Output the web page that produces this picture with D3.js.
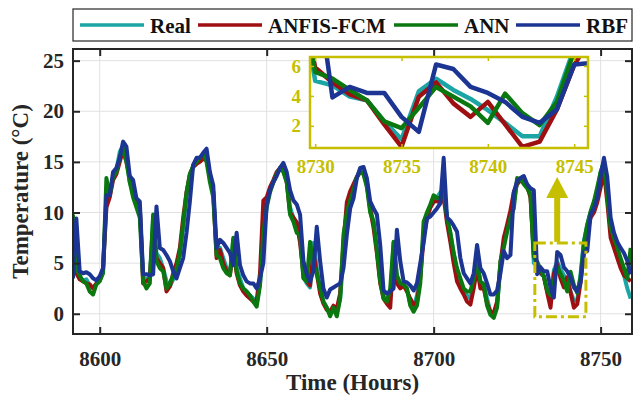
<!DOCTYPE html>
<html>
<head>
<meta charset="utf-8">
<script src="https://cdn.jsdelivr.net/npm/d3@7"></script>
<style>
  body { margin: 0; background: #fff; }
  svg text { font-family: "Liberation Serif", "Times New Roman", serif; font-weight: bold; }
</style>
</head>
<body>
<div id="chart"></div>
<script>
// hourly temperature (°C), first sample at hour 8592
const hourStart = 8592;

const realTemp = [
  8.2, 4.5, 3.5, 3.3, 3.4, 2.8, 2.6, 2.9, 3.3, 4.2,
  10.8, 12.0, 13.5, 14.2, 16.0, 16.6, 15.5, 13.0, 12.0, 11.0,
  10.5, 3.6, 3.4, 3.6, 9.5, 6.0, 5.5, 4.5, 3.2, 2.7,
  3.4, 4.5, 5.8, 8.5, 11.5, 13.5, 14.7, 15.0, 15.3, 15.7,
  15.5, 13.5, 12.0, 6.2, 6.5, 5.5, 4.5, 4.0, 7.3, 4.5,
  3.5, 2.5, 2.2, 1.8, 1.5, 1.0, 3.0, 7.0, 11.0, 12.3,
  13.0, 13.8, 14.3, 14.4, 13.5, 10.5, 9.5, 9.0, 7.5, 3.6,
  3.0, 2.6, 7.0, 4.5, 2.5, 1.2, 0.6, 0.0, 0.6, 0.2,
  1.5, 5.5, 9.5, 11.5, 12.5, 13.5, 14.2, 14.0, 13.0, 10.5,
  9.0, 6.5, 3.5, 1.8, 1.2, 1.5, 7.0, 3.5, 2.8, 2.9,
  2.5, 1.0, 0.6, 1.8, 4.0, 8.0, 9.5, 10.5, 11.0, 11.5,
  12.0, 12.3, 9.5, 8.0, 6.0, 4.0, 3.0, 2.2, 1.8, 1.5,
  3.0, 5.0, 3.2, 2.9, 1.5, 0.2, 0.0, 0.8, 4.5, 7.0,
  8.3, 9.5, 11.0, 13.0, 13.3, 13.2, 12.8, 12.0, 5.0, 4.7,
  3.95, 3.7, 2.3, 1.1, 4.3, 5.15, 4.4, 3.8, 3.05, 2.2,
  1.3, 1.3, 3.95, 7.2, 8.8, 10.0, 11.0, 12.0, 14.0, 15.0,
  12.0, 8.5, 7.0, 6.0, 5.0, 3.8, 2.5, 1.5
];

const anfisTemp = [
  8.0, 4.0, 3.4, 3.2, 3.0, 2.9, 2.5, 3.0, 3.3, 4.5,
  10.5, 11.5, 13.2, 13.8, 15.0, 16.2, 15.0, 13.5, 12.3, 11.0,
  10.6, 3.0, 3.2, 3.5, 8.5, 5.5, 5.0, 4.5, 2.2, 2.7,
  4.0, 5.0, 6.5, 9.5, 12.0, 13.8, 14.5, 14.8, 15.0, 15.3,
  15.2, 13.6, 12.0, 5.5, 6.3, 5.0, 4.2, 3.8, 6.5, 4.0,
  2.8, 2.2, 1.8, 1.5, 1.2, 1.3, 4.0, 11.2, 11.5, 12.5,
  13.2, 14.0, 14.4, 14.2, 13.0, 10.0, 9.5, 9.0, 7.0, 4.0,
  3.2, 2.8, 6.0, 4.0, 2.0, 1.0, 0.4, 0.2, 0.8, 0.5,
  2.0, 7.0, 11.0, 12.1, 12.8, 13.5, 14.0, 13.8, 12.8, 10.3,
  8.5, 6.0, 3.0, 1.5, 1.0, 0.6, 6.0, 3.0, 2.5, 2.8,
  2.2, 1.5, 0.9, 1.2, 3.5, 7.5, 9.5, 10.5, 11.1, 11.1,
  11.0, 11.5, 9.0, 7.1, 5.0, 3.2, 2.5, 1.9, 1.2, 0.9,
  2.5, 4.5, 2.5, 2.5, 1.0, 0.2, 0.1, 1.2, 5.0, 7.5,
  8.8, 10.2, 12.0, 12.8, 13.2, 13.0, 12.6, 11.5, 5.9, 4.9,
  4.1, 3.7, 2.1, 0.6, 3.95, 4.9, 3.5, 2.6, 3.6, 2.1,
  0.6, 0.95, 3.1, 6.05, 8.0, 9.5, 10.0, 11.0, 12.5, 14.0,
  11.0, 7.5, 6.5, 5.5, 4.5, 3.8, 3.5, 3.2
];

const annTemp = [
  9.8, 4.5, 3.8, 3.2, 3.0, 2.2, 1.9, 2.9, 3.2, 4.0,
  13.4, 11.7, 13.5, 14.0, 15.5, 16.3, 15.0, 13.0, 11.5, 10.5,
  9.5, 3.2, 2.5, 3.0, 9.8, 5.2, 4.5, 4.2, 2.5, 3.0,
  3.8, 4.5, 6.0, 9.0, 12.0, 13.8, 14.6, 15.0, 15.4, 15.8,
  15.0, 13.0, 11.5, 5.8, 5.5, 4.5, 4.0, 3.8, 7.5, 4.2,
  3.0, 2.5, 2.2, 1.8, 1.2, 0.7, 2.8, 8.0, 10.5, 12.0,
  13.0, 13.8, 14.4, 14.0, 13.0, 9.8, 9.1, 8.0, 7.8, 3.5,
  3.2, 7.1, 4.8, 4.0, 2.5, 1.2, 0.6, -0.25, 0.6, -0.25,
  1.5, 7.8, 10.0, 11.2, 12.2, 13.5, 14.0, 13.8, 12.5, 10.0,
  9.1, 6.2, 3.2, 1.5, 1.2, 2.5, 7.1, 3.8, 3.0, 2.9,
  2.5, 0.8, 0.2, 0.8, 3.0, 9.1, 10.0, 10.8, 11.7, 11.4,
  11.5, 12.0, 9.5, 8.0, 6.0, 4.5, 3.5, 2.5, 2.2, 2.2,
  3.5, 5.2, 3.2, 2.9, 0.8, -0.1, -0.4, 0.6, 5.2, 6.5,
  8.1, 9.5, 10.4, 13.4, 13.3, 12.8, 12.4, 11.8, 5.6, 5.15,
  4.4, 3.7, 2.3, 1.85, 3.2, 4.6, 3.95, 3.3, 2.2, 4.15,
  2.85, 2.05, 3.6, 7.0, 8.8, 10.1, 11.1, 12.5, 14.0, 15.0,
  11.5, 8.5, 7.5, 6.5, 5.5, 4.5, 3.5, 6.5
];

const rbfTemp = [
  3.5, 9.4, 4.2, 4.0, 4.1, 3.9, 3.5, 3.3, 3.7, 4.5,
  11.7, 11.7, 14.0, 14.4, 15.4, 17.0, 16.5, 13.6, 13.2, 11.4,
  11.1, 3.9, 3.9, 3.8, 3.9, 10.6, 6.5, 6.3, 5.8, 5.2,
  4.2, 3.5, 4.5, 5.5, 8.0, 11.1, 14.7, 15.4, 15.4, 15.9,
  16.3, 14.0, 12.7, 6.5, 7.3, 7.0, 6.5, 6.0, 4.8, 8.0,
  4.8, 3.8, 3.2, 3.0, 3.0, 2.5, 3.5, 5.0, 10.8, 12.2,
  13.0, 13.6, 14.4, 14.9, 14.0, 12.2, 11.2, 10.8, 9.8, 5.2,
  3.9, 3.2, 4.2, 8.6, 5.2, 2.5, 1.6, 2.4, 2.6, 2.8,
  3.0, 4.5, 7.8, 10.4, 11.4, 13.4, 14.4, 14.5, 13.4, 11.1,
  10.4, 9.8, 6.8, 2.3, 2.0, 2.2, 2.5, 8.3, 5.2, 3.2,
  3.1, 2.8, 2.3, 3.0, 5.0, 7.0, 9.4, 9.6, 10.0, 10.4,
  10.9, 15.4, 9.5, 9.2, 8.7, 8.1, 5.5, 4.0, 3.5, 3.0,
  4.0, 6.8, 4.5, 4.0, 3.0, 1.9, 1.9, 2.3, 4.0, 6.2,
  5.5, 5.8, 12.0, 13.1, 13.4, 13.6, 12.8, 12.4, 12.2, 3.9,
  4.6, 4.2, 4.2, 2.6, 1.6, 6.1, 5.8, 4.6, 4.2, 3.6,
  2.6, 2.2, 3.1, 6.1, 6.2, 9.8, 10.4, 11.5, 13.5, 15.4,
  13.5, 9.5, 8.0, 7.1, 6.5, 6.0, 5.2, 3.9
];

const seriesNames = ["Real", "ANFIS-FCM", "ANN", "RBF"];
const seriesColors = ["#1ba5a5", "#9e0f12", "#0a770f", "#1c3592"];
const xTicks = [8600, 8650, 8700, 8750];
const yTicks = [0, 5, 10, 15, 20, 25];
const insetXTicks = [8730, 8735, 8740, 8745];
const insetYTicks = [2, 4, 6];
// zoomed window marked on the main plot: hours and °C
const zoomHours = [8730.3, 8745.6];
const zoomTemps = [-0.3, 7.0];

const width = 633, height = 397;
const axisColor = "#262626";
const gold = "#c6bf00";

const svg = d3.select("#chart").append("svg")
  .attr("width", width)
  .attr("height", height);

const plot = { left: 73, top: 49, right: 632, bottom: 334 };

const x = d3.scaleLinear().domain([8592, 8759.4]).range([plot.left, plot.right]);
const y = d3.scaleLinear().domain([-2, 26.15]).range([plot.bottom, plot.top]);

const series = [realTemp, anfisTemp, annTemp, rbfTemp].map((vals, i) => ({
  name: seriesNames[i],
  color: seriesColors[i],
  values: vals.map((v, j) => ({ h: hourStart + j, v: v }))
}));

// grid
svg.append("g")
  .selectAll("line")
  .data(xTicks)
  .join("line")
  .attr("x1", d => x(d)).attr("x2", d => x(d))
  .attr("y1", plot.top).attr("y2", plot.bottom)
  .attr("stroke", "#e1e1e1").attr("stroke-width", 1);

svg.append("g")
  .selectAll("line")
  .data(yTicks)
  .join("line")
  .attr("x1", plot.left).attr("x2", plot.right)
  .attr("y1", d => y(d)).attr("y2", d => y(d))
  .attr("stroke", "#e1e1e1").attr("stroke-width", 1);

// clip
svg.append("clipPath").attr("id", "plotClip")
  .append("rect")
  .attr("x", plot.left).attr("y", plot.top)
  .attr("width", plot.right - plot.left).attr("height", plot.bottom - plot.top);

const line = d3.line().x(d => x(d.h)).y(d => y(d.v));

svg.append("g").attr("clip-path", "url(#plotClip)")
  .selectAll("path")
  .data(series)
  .join("path")
  .attr("d", d => line(d.values))
  .attr("fill", "none")
  .attr("stroke", d => d.color)
  .attr("stroke-width", 4)
  .attr("stroke-linejoin", "round");

// axes
function styleAxis(g) {
  g.select(".domain").remove();
  g.selectAll(".tick line").attr("stroke", axisColor).attr("stroke-width", 2);
  g.selectAll("text").attr("fill", axisColor);
  g.attr("font-family", "Liberation Serif").attr("font-size", 21).attr("font-weight", "bold");
}

svg.append("g").attr("transform", `translate(0,${plot.bottom})`)
  .call(d3.axisBottom(x).tickValues(xTicks).tickSize(-7).tickPadding(17).tickFormat(d3.format("d")))
  .call(styleAxis);

svg.append("g").attr("transform", `translate(0,${plot.top})`)
  .call(d3.axisTop(x).tickValues(xTicks).tickSize(-7).tickFormat(""))
  .call(styleAxis);

svg.append("g").attr("transform", `translate(${plot.left},0)`)
  .call(d3.axisLeft(y).tickValues(yTicks).tickSize(-7).tickPadding(9))
  .call(styleAxis);

svg.append("g").attr("transform", `translate(${plot.right},0)`)
  .call(d3.axisRight(y).tickValues(yTicks).tickSize(-7).tickFormat(""))
  .call(styleAxis);

svg.append("rect")
  .attr("x", plot.left).attr("y", plot.top)
  .attr("width", plot.right - plot.left).attr("height", plot.bottom - plot.top)
  .attr("fill", "none").attr("stroke", axisColor).attr("stroke-width", 2);

// axis titles
svg.append("text")
  .attr("x", (plot.left + plot.right) / 2).attr("y", 390)
  .attr("text-anchor", "middle").attr("font-size", 23).attr("fill", axisColor)
  .text("Time (Hours)");

svg.append("text")
  .attr("transform", `translate(28,${(plot.top + plot.bottom) / 2}) rotate(-90)`)
  .attr("text-anchor", "middle").attr("font-size", 23).attr("fill", axisColor)
  .text("Temperature (°C)");

// zoom marker + arrow
svg.append("rect")
  .attr("x", x(zoomHours[0])).attr("y", y(zoomTemps[1]))
  .attr("width", x(zoomHours[1]) - x(zoomHours[0]))
  .attr("height", y(zoomTemps[0]) - y(zoomTemps[1]))
  .attr("fill", "none").attr("stroke", gold).attr("stroke-width", 3)
  .attr("stroke-dasharray", "11,4,3,4");

const ax = x(8737), ay0 = y(zoomTemps[1]) - 1, ay1 = 198, tipY = 177;
svg.append("line")
  .attr("x1", ax).attr("x2", ax).attr("y1", ay0).attr("y2", ay1)
  .attr("stroke", gold).attr("stroke-width", 6);
svg.append("path")
  .attr("d", `M${ax - 11},${ay1} L${ax + 11},${ay1} L${ax},${tipY} Z`)
  .attr("fill", gold);

// inset
const inset = { left: 310, top: 57, right: 588, bottom: 148 };
const xi = d3.scaleLinear().domain([8729.7, 8745.8]).range([inset.left, inset.right]);
const yi = d3.scaleLinear().domain([0.52, 6.6]).range([inset.bottom, inset.top]);

svg.append("rect")
  .attr("x", inset.left).attr("y", inset.top)
  .attr("width", inset.right - inset.left).attr("height", inset.bottom - inset.top)
  .attr("fill", "#fff");

svg.append("clipPath").attr("id", "insetClip")
  .append("rect")
  .attr("x", inset.left).attr("y", inset.top)
  .attr("width", inset.right - inset.left).attr("height", inset.bottom - inset.top);

const iline = d3.line().x(d => xi(d.h)).y(d => yi(d.v));
svg.append("g").attr("clip-path", "url(#insetClip)")
  .selectAll("path")
  .data(series)
  .join("path")
  .attr("d", d => iline(d.values))
  .attr("fill", "none")
  .attr("stroke", d => d.color)
  .attr("stroke-width", 4.5)
  .attr("stroke-linejoin", "round");

function styleInset(g) {
  g.select(".domain").remove();
  g.selectAll(".tick line").attr("stroke", gold).attr("stroke-width", 1.5);
  g.selectAll("text").attr("fill", gold);
  g.attr("font-family", "Liberation Serif").attr("font-size", 19).attr("font-weight", "bold");
}

svg.append("g").attr("transform", `translate(0,${inset.bottom})`)
  .call(d3.axisBottom(xi).tickValues(insetXTicks).tickSize(-4).tickPadding(12).tickFormat(d3.format("d")))
  .call(styleInset);
svg.append("g").attr("transform", `translate(0,${inset.top})`)
  .call(d3.axisTop(xi).tickValues(insetXTicks).tickSize(-4).tickFormat(""))
  .call(styleInset);
svg.append("g").attr("transform", `translate(${inset.left},0)`)
  .call(d3.axisLeft(yi).tickValues(insetYTicks).tickSize(-4).tickPadding(9).tickFormat(d3.format("d")))
  .call(styleInset);
svg.append("g").attr("transform", `translate(${inset.right},0)`)
  .call(d3.axisRight(yi).tickValues(insetYTicks).tickSize(-4).tickFormat(""))
  .call(styleInset);

svg.append("rect")
  .attr("x", inset.left).attr("y", inset.top)
  .attr("width", inset.right - inset.left).attr("height", inset.bottom - inset.top)
  .attr("fill", "none").attr("stroke", gold).attr("stroke-width", 2.5);

// legend
const legend = svg.append("g");
legend.append("rect")
  .attr("x", 73).attr("y", 9).attr("width", 559).attr("height", 32)
  .attr("fill", "#fff").attr("stroke", axisColor).attr("stroke-width", 1.2);

const legendLineX = [80, 198, 394, 516];
const legendItems = legend.selectAll("g")
  .data(series)
  .join("g")
  .attr("transform", (d, i) => `translate(${legendLineX[i]},0)`);

legendItems.append("line")
  .attr("x1", 0).attr("x2", 64).attr("y1", 25).attr("y2", 25)
  .attr("stroke", d => d.color).attr("stroke-width", 3.5);

legendItems.append("text")
  .attr("x", 70).attr("y", 33)
  .attr("font-size", 21).attr("fill", "#111")
  .text(d => d.name);
</script>
</body>
</html>
